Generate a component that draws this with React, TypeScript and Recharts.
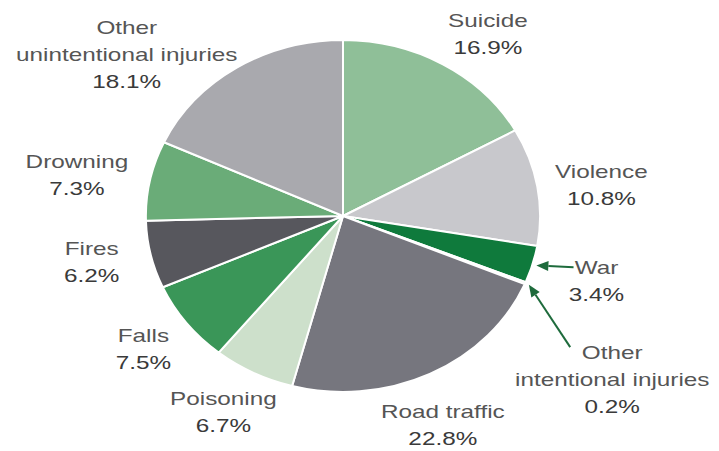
import React from "react";
import { Pie, PieChart } from "recharts";

const causes = [
  "Suicide",
  "Violence",
  "War",
  "Other intentional injuries",
  "Road traffic",
  "Poisoning",
  "Falls",
  "Fires",
  "Drowning",
  "Other unintentional injuries",
];
const shares = [16.9, 10.8, 3.4, 0.2, 22.8, 6.7, 7.5, 6.2, 7.3, 18.1];
const labelLines = [
  ["Suicide"],
  ["Violence"],
  ["War"],
  ["Other", "intentional injuries"],
  ["Road traffic"],
  ["Poisoning"],
  ["Falls"],
  ["Fires"],
  ["Drowning"],
  ["Other", "unintentional injuries"],
];

const colors = [
  "#8fbf98",
  "#c8c8cc",
  "#0f7a3c",
  "#e8eee6",
  "#76767e",
  "#cde0cb",
  "#3a9658",
  "#57575d",
  "#6aac78",
  "#a9a9ae",
];

// label block centre relative to the slice's outer midpoint
const labelShift = [
  [45, -30],
  [64, -1],
  [64, 17],
  [87, 97],
  [13, 52],
  [-30, 40],
  [-43, 27],
  [-59, 8],
  [-73, -5],
  [-110, -13],
];
// arrow tails (relative to label centre) for the two thin slices
const arrowTail: Record<number, [number, number]> = {
  2: [-23, -14],
  3: [-42, -33],
};

const data = causes.map((name, i) => ({ name, value: shares[i], fill: colors[i] }));

const RAD = Math.PI / 180;
const X_STRETCH = 1.12;
const LINE = 27;
const FONT = "'Liberation Sans', Arial, sans-serif";

function OvalSector(props: any) {
  const { cx, cy, outerRadius, startAngle, endAngle, fill } = props;
  const rx = outerRadius * X_STRETCH;
  const ry = outerRadius;
  const pt = (a: number) => [cx + rx * Math.cos(a * RAD), cy - ry * Math.sin(a * RAD)];
  const [x0, y0] = pt(startAngle);
  const [x1, y1] = pt(endAngle);
  const large = Math.abs(startAngle - endAngle) > 180 ? 1 : 0;
  const sweep = startAngle > endAngle ? 1 : 0;
  return (
    <path
      d={`M${cx},${cy}L${x0},${y0}A${rx},${ry} 0 ${large} ${sweep} ${x1},${y1}Z`}
      fill={fill}
      stroke="#fff"
      strokeWidth={2}
      strokeLinejoin="round"
    />
  );
}

function Arrow({ from, to }: { from: number[]; to: number[] }) {
  const ang = Math.atan2(to[1] - from[1], to[0] - from[0]);
  const len = 12;
  const half = 5;
  const bx = to[0] - len * Math.cos(ang);
  const by = to[1] - len * Math.sin(ang);
  const nx = -Math.sin(ang) * half;
  const ny = Math.cos(ang) * half;
  return (
    <g>
      <line x1={from[0]} y1={from[1]} x2={bx} y2={by} stroke="#1e6b3c" strokeWidth={2} />
      <polygon
        points={`${to[0]},${to[1]} ${bx + nx},${by + ny} ${bx - nx},${by - ny}`}
        fill="#1e6b3c"
      />
    </g>
  );
}

function renderLabel(props: any) {
  const { cx, cy, midAngle, outerRadius, index } = props;
  const ex = cx + outerRadius * X_STRETCH * Math.cos(midAngle * RAD);
  const ey = cy - outerRadius * Math.sin(midAngle * RAD);
  const [dx, dy] = labelShift[index];
  const lx = ex + dx;
  const ly = ey + dy;
  const lines = [...labelLines[index], `${shares[index].toFixed(1)}%`];
  const top = ly - ((lines.length - 1) * LINE) / 2;
  const tail = arrowTail[index];
  const out = 4;
  return (
    <g key={`lbl-${index}`}>
      {tail && (
        <Arrow
          from={[lx + tail[0], ly + tail[1]]}
          to={[ex + out * Math.cos(midAngle * RAD), ey - out * Math.sin(midAngle * RAD)]}
        />
      )}
      {lines.map((t, j) => (
        <text
          key={j}
          transform={`translate(${lx},${top + j * LINE}) scale(1.35,1)`}
          textAnchor="middle"
          dominantBaseline="central"
          fontFamily={FONT}
          fontSize={18}
          fill={j === lines.length - 1 ? "#3a3a3a" : "#555"}
        >
          {t}
        </text>
      ))}
    </g>
  );
}

export default function App() {
  return (
    <div style={{ position: "absolute", left: 0, top: 0, width: 719, height: 451, background: "#fff" }}>
      <PieChart width={719} height={451} margin={{ top: 0, right: 0, bottom: 0, left: 0 }}>
        <Pie
          data={data}
          dataKey="value"
          nameKey="name"
          cx={343}
          cy={216}
          outerRadius={176}
          startAngle={90}
          endAngle={-270}
          shape={OvalSector}
          inactiveShape={OvalSector}
          activeShape={OvalSector}
          label={renderLabel}
          labelLine={false}
          isAnimationActive={false}
        />
      </PieChart>
    </div>
  );
}
